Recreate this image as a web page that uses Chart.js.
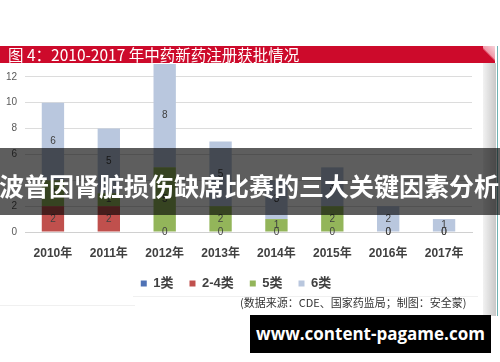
<!DOCTYPE html>
<html>
<head>
<meta charset="utf-8">
<script src="https://cdn.jsdelivr.net/npm/chart.js@4/dist/chart.umd.min.js"></script>
<style>
  html, body { margin: 0; padding: 0; background: #fff; }
  #wrap { position: relative; width: 500px; height: 362px; overflow: hidden; font-family: "Noto Sans CJK SC", "Noto Sans", sans-serif; }
  #chart { position: absolute; left: 0; top: 0; }
  .abs { position: absolute; }
  #titlebar { left: 0; top: 46px; width: 495px; height: 17px; background: #cd0a2b; color: #fff; font-size: 15.5px; line-height: 17px; padding-left: 8px; box-sizing: border-box; white-space: nowrap; }
  #curl { left: 483px; top: 46px; width: 12px; height: 17px; background: linear-gradient(225deg, #f7d6dc 0%, #f09aaa 45%, #cd0a2b 55%); }
  #shadow { left: 483px; top: 63px; width: 13px; height: 253px; background: linear-gradient(to right, #f2f2f2, #c8c8c8); }
  #teal { left: 497px; top: 46px; width: 1px; height: 270px; background: #6fb3b3; }
  #banner { left: 0; top: 148px; width: 500px; height: 67px; background: rgba(0,0,0,0.63); }
  #bannertext { left: -1px; top: 170px; height: 30px; line-height: 30px; color: #fff; font-size: 25px; font-weight: bold; white-space: nowrap; }
  #source { left: 240px; top: 295px; font-size: 11px; line-height: 14px; color: #333; white-space: nowrap; }
  #line1 { left: 133px; top: 296px; width: 345px; height: 1px; background: #f0f0f0; }
  #line2 { left: 0; top: 305px; width: 135px; height: 1px; background: #f0f0f0; }
  #mark { left: 250px; top: 315px; width: 241px; height: 38px; background: #000; color: #fff; font-family: "Open Sans", sans-serif; font-weight: bold; font-size: 17px; line-height: 38px; text-align: center; }
</style>
</head>
<body>
<div id="wrap">
  <canvas id="chart" width="500" height="362"></canvas>
  <div class="abs" id="line1"></div>
  <div class="abs" id="line2"></div>
  <div class="abs" id="titlebar">图 4：2010-2017 年中药新药注册获批情况</div>
  <div class="abs" id="curl"></div>
  <div class="abs" id="shadow"></div>
  <div class="abs" id="teal"></div>
  <div class="abs" id="banner"></div>
  <div class="abs" id="bannertext">波普因肾脏损伤缺席比赛的三大关键因素分析</div>
  <div class="abs" id="source">(数据来源：CDE、国家药监局；制图：安全蒙)</div>
  <div class="abs" id="mark">www.content-pagame.com</div>
</div>
<script>
// Chart data
const years = ['2010年', '2011年', '2012年', '2013年', '2014年', '2015年', '2016年', '2017年'];
const class1 = [null, null, null, null, null, null, null, null];
const class2to4 = [2, 2, 0, 0, 0, 0, 0, 0];
const class5 = [2, 1, 5, 2, 1, 2, 0, 0];
const class6 = [6, 5, 8, 5, 3, 3, 2, 1];

// value labels in the middle of each segment
const valueLabels = {
    id: 'valueLabels',
    afterDatasetsDraw(chart) {
        const ctx = chart.ctx;
        ctx.save();
        ctx.font = '10px "Liberation Sans", sans-serif';
        ctx.fillStyle = '#404040';
        ctx.textAlign = 'center';
        ctx.textBaseline = 'middle';
        chart.data.datasets.forEach(function(ds, i) {
            const meta = chart.getDatasetMeta(i);
            meta.data.forEach(function(bar, j) {
                const v = ds.data[j];
                if (v === null || v === undefined) return;
                ctx.fillText(String(v), bar.x, (bar.y + bar.base) / 2);
            });
        });
        ctx.restore();
    }
};

const ctx = document.getElementById('chart').getContext('2d');
const chart = new Chart(ctx, {
    type: 'bar',
    data: {
        labels: years,
        datasets: [
            { label: '1类', data: class1, backgroundColor: '#4f72b5' },
            { label: '2-4类', data: class2to4, backgroundColor: '#c0504d' },
            { label: '5类', data: class5, backgroundColor: '#93b55a' },
            { label: '6类', data: class6, backgroundColor: '#b9c7de' }
        ]
    },
    options: {
        responsive: false,
        animation: false,
        categoryPercentage: 1,
        barPercentage: 0.4,
        layout: { padding: { left: 0, right: 28, top: 51, bottom: 62 } },
        plugins: {
            tooltip: { enabled: false },
            legend: {
                position: 'bottom',
                labels: {
                    boxWidth: 6,
                    boxHeight: 6,
                    padding: 16,
                    color: '#404040',
                    font: { size: 13, weight: 'bold', family: '"Liberation Sans", "Noto Sans CJK SC", sans-serif' }
                }
            }
        },
        scales: {
            x: {
                stacked: true,
                grid: { display: false },
                border: { color: '#d0d0d0' },
                ticks: {
                    padding: 6,
                    color: '#404040',
                    font: { size: 12, weight: 'bold', family: '"Liberation Sans", "Noto Sans CJK SC", sans-serif' }
                },
                afterFit(scale) { scale.height = 29; }
            },
            y: {
                stacked: true,
                min: 0,
                max: 14,
                border: { display: false },
                grid: { color: '#dcdcdc', drawTicks: false },
                ticks: {
                    stepSize: 2,
                    padding: 8,
                    color: '#595959',
                    font: { size: 10, family: '"Liberation Sans", sans-serif' }
                },
                afterFit(scale) { scale.width = 25; }
            }
        }
    },
    plugins: [valueLabels]
});
</script>
</body>
</html>
